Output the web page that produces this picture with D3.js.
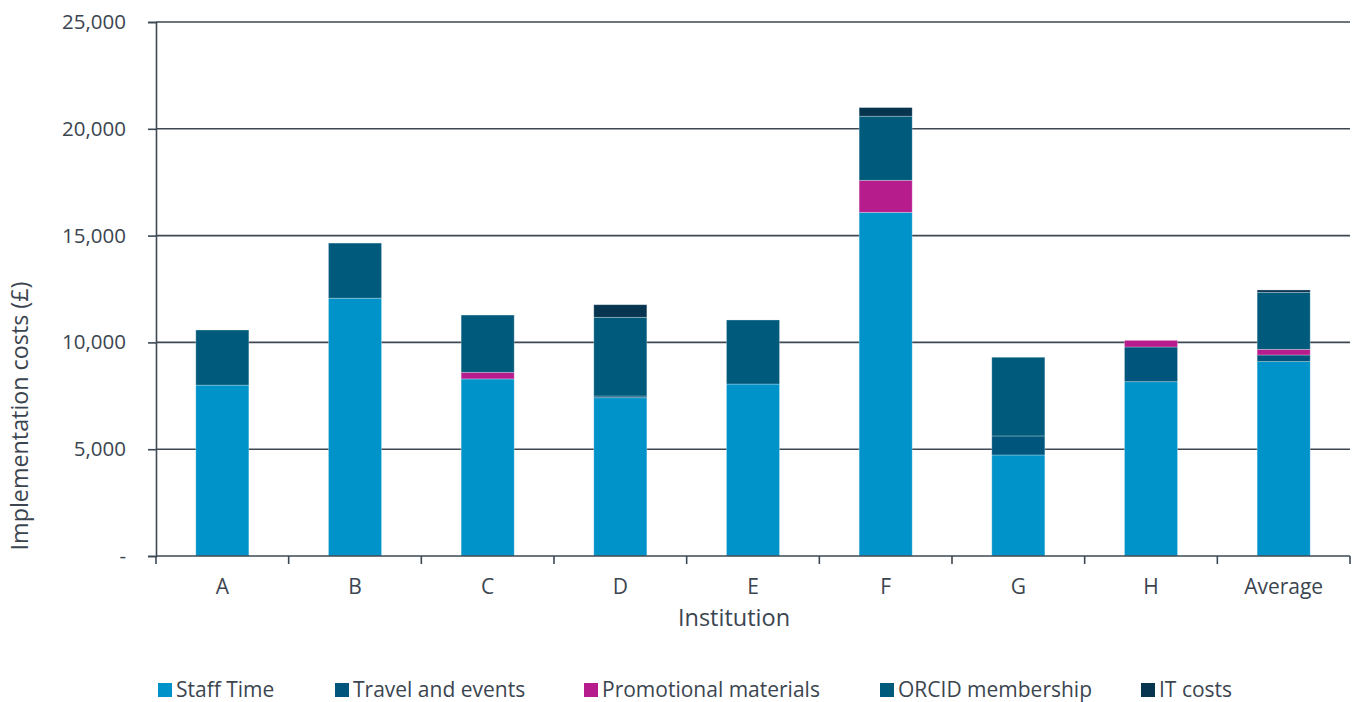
<!DOCTYPE html>
<html>
<head>
<meta charset="utf-8">
<script src="https://cdn.jsdelivr.net/npm/d3@7"></script>
<style>
  body { margin: 0; background: #fff; }
  text { font-family: "Open Sans", sans-serif; fill: #3b4550; }
</style>
</head>
<body>
<div id="dataviz"></div>
<script>
// data
var institutions = ["A", "B", "C", "D", "E", "F", "G", "H", "Average"];
var seriesNames = ["Staff Time", "Travel and events", "Promotional materials", "ORCID membership", "IT costs"];
var staffTime   = [8000, 12070, 8290, 7410, 8050, 16090, 4730, 8160, 9100];
var travel      = [0, 0, 0, 80, 0, 0, 890, 1625, 310];
var promo       = [0, 0, 310, 0, 0, 1500, 0, 310, 265];
var orcid       = [2580, 2580, 2680, 3685, 3000, 3000, 3685, 0, 2670];
var itCosts     = [0, 0, 0, 590, 0, 405, 0, 0, 110];
var yTicks      = [0, 5000, 10000, 15000, 20000, 25000];
var colors      = ["#0093c9", "#00557c", "#b71c8c", "#005a7b", "#07344f"];

var W = 1358, H = 702;
var margin = {top: 22, right: 8, bottom: 146, left: 156};
var width = W - margin.left - margin.right;
var height = H - margin.top - margin.bottom;

var svg = d3.select("#dataviz")
  .append("svg")
    .attr("width", W)
    .attr("height", H)
  .append("g")
    .attr("transform", "translate(" + margin.left + "," + margin.top + ")");

// build rows for the stack
var seriesArrays = [staffTime, travel, promo, orcid, itCosts];
var rows = institutions.map(function(name, i) {
  var r = {name: name};
  seriesNames.forEach(function(s, j) { r[s] = seriesArrays[j][i]; });
  return r;
});
var stacked = d3.stack().keys(seriesNames)(rows);

var x = d3.scaleBand()
  .domain(institutions)
  .range([0, width])
  .paddingInner(0.6)
  .paddingOuter(0.3);

var y = d3.scaleLinear()
  .domain([0, 25000])
  .range([height, 0]);

// gridlines
svg.append("g")
  .selectAll("line")
  .data(yTicks.slice(1))
  .enter()
  .append("line")
    .attr("x1", 0)
    .attr("x2", width)
    .attr("y1", function(d) { return y(d); })
    .attr("y2", function(d) { return y(d); })
    .attr("stroke", "#3d4852")
    .attr("stroke-width", 1.6);

// bars
svg.append("g")
  .selectAll("g")
  .data(stacked)
  .enter()
  .append("g")
    .attr("fill", function(d, i) { return colors[i]; })
  .selectAll("rect")
  .data(function(d) { return d; })
  .enter()
  .filter(function(d) { return d[1] - d[0] > 0; })
  .append("rect")
    .attr("x", function(d) { return x(d.data.name); })
    .attr("y", function(d) { return y(d[1]); })
    .attr("width", x.bandwidth())
    .attr("height", function(d) { return y(d[0]) - y(d[1]); })
    .attr("stroke", "rgba(255,255,255,0.35)")
    .attr("stroke-width", 0.8);

// y axis
var yAxis = svg.append("g")
  .call(d3.axisLeft(y)
    .tickValues(yTicks)
    .tickSize(8)
    .tickPadding(22)
    .tickFormat(function(d) { return d === 0 ? "-" : d3.format(",")(d); }));
yAxis.select(".domain").attr("stroke", "#3d4852").attr("stroke-width", 1.6);
yAxis.selectAll(".tick line").attr("stroke", "#3d4852").attr("stroke-width", 1.6);
yAxis.selectAll("text")
  .style("font-size", "20.5px")
  .style("font-family", "'Open Sans', sans-serif")
  .attr("fill", "#3b4550");

// x axis: tick marks sit between the categories
var xAxis = svg.append("g")
  .attr("transform", "translate(0," + height + ")");
xAxis.append("line")
  .attr("x1", 0).attr("x2", width)
  .attr("stroke", "#3d4852").attr("stroke-width", 1.6);
xAxis.selectAll(".sep")
  .data(d3.range(institutions.length + 1))
  .enter()
  .append("line")
    .attr("x1", function(i) { return i * width / institutions.length; })
    .attr("x2", function(i) { return i * width / institutions.length; })
    .attr("y1", 0)
    .attr("y2", 8)
    .attr("stroke", "#3d4852")
    .attr("stroke-width", 1.6);
xAxis.selectAll(".lbl")
  .data(institutions)
  .enter()
  .append("text")
    .attr("x", function(d) { return x(d) + x.bandwidth() / 2; })
    .attr("y", 38)
    .style("font-size", "21px")
    .style("text-anchor", "middle")
    .text(function(d) { return d; });

// axis titles
svg.append("text")
  .attr("x", width / 2 - 19)
  .attr("y", height + 70)
  .style("font-size", "23.5px")
  .style("text-anchor", "middle")
  .text("Institution");

svg.append("text")
  .attr("transform", "translate(" + (-128) + "," + 394 + ") rotate(-90)")
  .style("font-size", "23.3px")
  .style("text-anchor", "middle")
  .text("Implementation costs (£)");

// legend
var legendX = [158, 335, 584, 880, 1141];
var legend = svg.append("g")
  .attr("transform", "translate(" + (-margin.left) + "," + (-margin.top) + ")");
seriesNames.forEach(function(s, i) {
  legend.append("rect")
    .attr("x", legendX[i])
    .attr("y", 683)
    .attr("width", 14)
    .attr("height", 14)
    .attr("fill", colors[i]);
  legend.append("text")
    .attr("x", legendX[i] + 18)
    .attr("y", 697)
    .style("font-size", "21px")
    .text(s);
});
</script>
</body>
</html>
